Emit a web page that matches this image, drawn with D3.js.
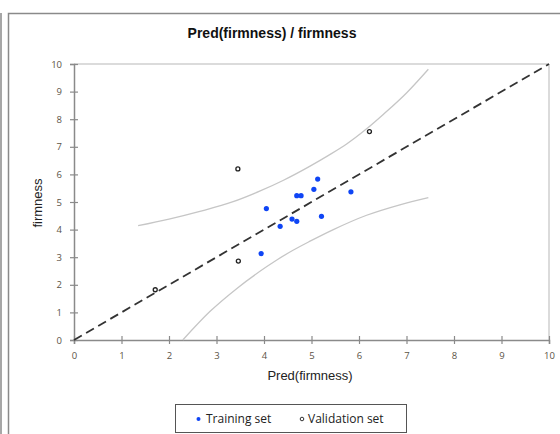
<!DOCTYPE html>
<html>
<head>
<meta charset="utf-8">
<script src="https://cdn.jsdelivr.net/npm/d3@7"></script>
<style>
	body { margin: 0; background: #fff; }
	svg { display: block; }
</style>
</head>
<body>
<script>
const trainPred = [5.13, 5.05, 4.69, 4.78, 5.83, 4.05, 4.59, 4.69, 4.34, 5.21, 3.94];
const trainObs = [5.83, 5.46, 5.23, 5.23, 5.37, 4.76, 4.38, 4.30, 4.12, 4.48, 3.13];
const validPred = [3.45, 6.22, 3.46, 1.71];
const validObs = [6.20, 7.55, 2.86, 1.82];
// confidence band
const upperX = [1.35, 2.0, 2.65, 3.35, 3.92, 4.4, 4.97, 5.35, 5.74, 6.16, 6.51, 7.0, 7.46];
const upperY = [4.14, 4.38, 4.66, 5.01, 5.40, 5.78, 6.30, 6.68, 7.10, 7.65, 8.17, 8.95, 9.81];
const lowerX = [2.29, 2.86, 3.43, 4.06, 4.27, 4.62, 4.97, 5.46, 6.16, 6.86, 7.46];
const lowerY = [0.00, 1.03, 1.87, 2.66, 2.90, 3.26, 3.58, 4.00, 4.52, 4.90, 5.16];
const ticks = [0, 1, 2, 3, 4, 5, 6, 7, 8, 9, 10];

class Scatter {
	constructor() {
		this._width = 560;
		this._height = 434;
		this._margins = {left: 74, top: 64, right: 11, bottom: 94};
		this._scaleX = d3.scaleLinear().domain([0, 10]).range([0, this.quadrantWidth()]);
		this._scaleY = d3.scaleLinear().domain([0, 10]).range([this.quadrantHeight(), 0]);
		this._svg = null;
		this._body = null;
	}
	render() {
		this._svg = d3.select('body')
			.append('svg')
			.attr('width', this._width)
			.attr('height', this._height);
		this.renderFrame();
		this._body = this._svg.append('g')
			.attr('transform', `translate(${this._margins.left},${this._margins.top})`);
		this.renderBorder();
		this.renderAxes();
		this.renderBand();
		this.renderDiagonal();
		this.renderPoints();
		this.renderLegend();
	}
	renderFrame() {
		this._svg.append('line')
			.attr('x1', 1).attr('y1', 13).attr('x2', 1).attr('y2', this._height)
			.attr('stroke', '#8a8a8a').attr('stroke-width', 1.5);
		this._svg.append('rect')
			.attr('x', 8.5).attr('y', 13.5)
			.attr('width', 600).attr('height', 500)
			.attr('fill', 'none').attr('stroke', '#8a8a8a').attr('stroke-width', 1.5);
		this._svg.append('text')
			.attr('x', 272).attr('y', 38)
			.attr('text-anchor', 'middle')
			.style('font-family', '"Liberation Sans", Arial, sans-serif')
			.style('font-size', '14px')
			.style('font-weight', 'bold')
			.attr('fill', '#111')
			.text('Pred(firmness) / firmness');
	}
	renderBorder() {
		this._body.append('line')
			.attr('x1', 0).attr('y1', 0).attr('x2', this.quadrantWidth()).attr('y2', 0)
			.attr('stroke', '#cfcfcf').attr('stroke-width', 1.5);
		this._body.append('line')
			.attr('x1', this.quadrantWidth()).attr('y1', 0).attr('x2', this.quadrantWidth()).attr('y2', this.quadrantHeight())
			.attr('stroke', '#cfcfcf').attr('stroke-width', 1.5);
	}
	renderAxes() {
		let xAxis = d3.axisBottom(this._scaleX).tickValues(ticks).tickSize(4).tickPadding(8);
		let yAxis = d3.axisLeft(this._scaleY).tickValues(ticks).tickSize(4).tickPadding(8);
		let gx = this._body.append('g')
			.attr('class', 'x axis')
			.attr('transform', `translate(0,${this.quadrantHeight()})`)
			.call(xAxis);
		let gy = this._body.append('g')
			.attr('class', 'y axis')
			.call(yAxis);
		[gx, gy].forEach(g => {
			g.select('.domain').attr('stroke', '#8a8a8a').attr('stroke-width', 1.5);
			g.selectAll('.tick line').attr('stroke', '#8a8a8a').attr('stroke-width', 1.2);
			g.selectAll('.tick text')
				.attr('fill', '#5b5346')
				.style('font-family', '"Open Sans", sans-serif')
				.style('font-size', '9.5px');
		});
		// ticks cross the axis line
		gx.selectAll('.tick line').attr('y1', -4);
		gy.selectAll('.tick line').attr('x1', 4);

		this._svg.append('text')
			.attr('x', 310).attr('y', 380)
			.attr('text-anchor', 'middle')
			.style('font-family', '"Liberation Sans", Arial, sans-serif')
			.style('font-size', '13px')
			.attr('fill', '#222')
			.text('Pred(firmness)');
		this._svg.append('text')
			.attr('transform', 'translate(42,203) rotate(-90)')
			.attr('text-anchor', 'middle')
			.style('font-family', '"Liberation Sans", Arial, sans-serif')
			.style('font-size', '13px')
			.attr('fill', '#222')
			.text('firmness');
	}
	renderBand() {
		let line = d3.line()
			.x(d => this._scaleX(d[0]))
			.y(d => this._scaleY(d[1]))
			.curve(d3.curveMonotoneX);
		[[upperX, upperY], [lowerX, lowerY]].forEach(([xs, ys]) => {
			this._body.append('path')
				.attr('d', line(xs.map((v, i) => [v, ys[i]])))
				.attr('fill', 'none')
				.attr('stroke', '#c6c6c6')
				.attr('stroke-width', 1.3);
		});
	}
	renderDiagonal() {
		this._body.append('line')
			.attr('x1', this._scaleX(0)).attr('y1', this._scaleY(0))
			.attr('x2', this._scaleX(10)).attr('y2', this._scaleY(10))
			.attr('stroke', '#333')
			.attr('stroke-width', 1.8)
			.attr('stroke-dasharray', '9,5');
	}
	renderPoints() {
		this._body.selectAll('circle.train')
			.data(trainPred)
			.enter()
			.append('circle')
			.attr('class', 'train')
			.attr('cx', d => this._scaleX(d))
			.attr('cy', (d, i) => this._scaleY(trainObs[i]))
			.attr('r', 2.6)
			.attr('fill', '#0f45f5');
		this._body.selectAll('circle.valid')
			.data(validPred)
			.enter()
			.append('circle')
			.attr('class', 'valid')
			.attr('cx', d => this._scaleX(d))
			.attr('cy', (d, i) => this._scaleY(validObs[i]))
			.attr('r', 2)
			.attr('fill', '#fff')
			.attr('stroke', '#222')
			.attr('stroke-width', 1.3);
	}
	renderLegend() {
		let g = this._svg.append('g').attr('class', 'legend');
		g.append('rect')
			.attr('x', 175.5).attr('y', 404.5)
			.attr('width', 231).attr('height', 28)
			.attr('fill', '#fff').attr('stroke', '#555').attr('stroke-width', 1);
		g.append('circle')
			.attr('cx', 198.5).attr('cy', 419)
			.attr('r', 2)
			.attr('fill', '#0f45f5');
		g.append('circle')
			.attr('cx', 302).attr('cy', 419)
			.attr('r', 1.8)
			.attr('fill', '#fff').attr('stroke', '#333').attr('stroke-width', 1);
		[['Training set', 206], ['Validation set', 308]].forEach(([t, x]) => {
			g.append('text')
				.attr('x', x).attr('y', 423)
				.style('font-family', '"Open Sans", sans-serif')
				.style('font-size', '12px')
				.attr('fill', '#222')
				.text(t);
		});
	}
	quadrantWidth() {
		return this._width - this._margins.left - this._margins.right;
	}
	quadrantHeight() {
		return this._height - this._margins.top - this._margins.bottom;
	}
}

new Scatter().render();
</script>
</body>
</html>
